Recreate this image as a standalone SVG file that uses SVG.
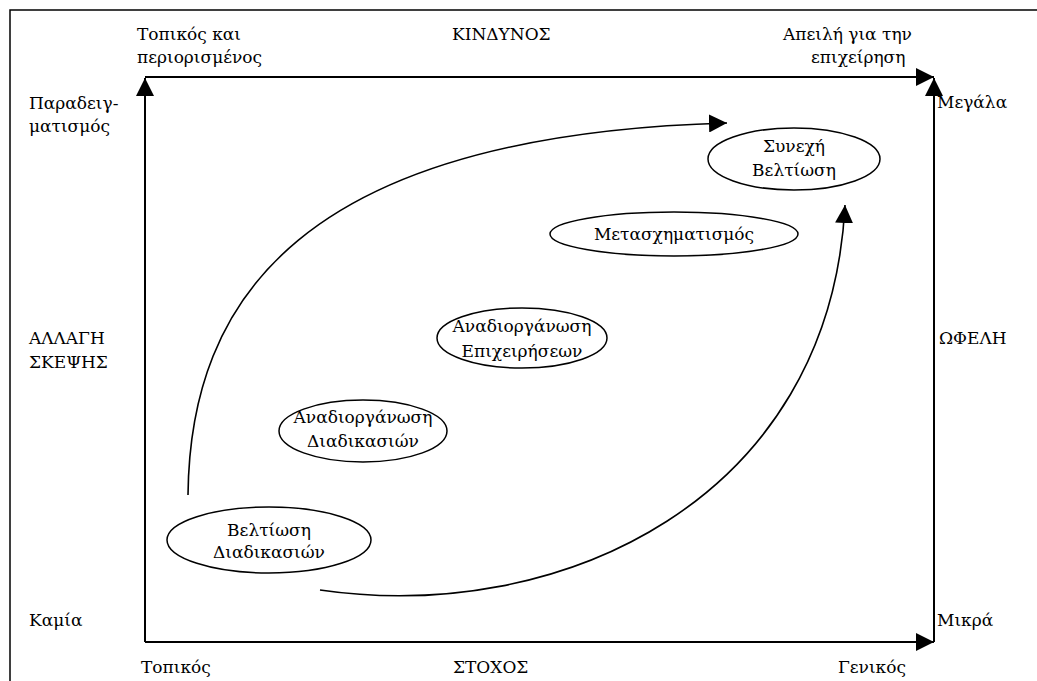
<svg xmlns="http://www.w3.org/2000/svg" width="1037" height="681" viewBox="0 0 1037 681">
  <style>
    text { font-family: "DejaVu Serif", "Liberation Serif", serif; font-size: 17px; fill: #000; }
    .mid { text-anchor: middle; }
    .axis { stroke: #000; stroke-width: 2; fill: none; }
    .node { stroke: #000; stroke-width: 1.5; fill: #fff; }
    .flow { stroke: #000; stroke-width: 1.6; fill: none; }
  </style>
  <defs>
    <marker id="head" markerUnits="userSpaceOnUse" markerWidth="18" markerHeight="18" refX="18" refY="9" orient="auto">
      <path d="M0,0 L18,9 L0,18 z" fill="#000"/>
    </marker>
  </defs>
  <rect width="1037" height="681" fill="#fff"/>
  <!-- outer frame (only top and left edges fall inside the canvas) -->
  <rect x="10" y="10" width="1040" height="690" fill="none" stroke="#000" stroke-width="1.5"/>

  <!-- axes and flow arrows -->
  <g id="connectors">
    <line class="axis" x1="145" y1="77" x2="934" y2="77" marker-end="url(#head)"/>
    <line class="axis" x1="145" y1="642" x2="145" y2="78" marker-end="url(#head)"/>
    <line class="axis" x1="145" y1="642" x2="934" y2="642" marker-end="url(#head)"/>
    <line class="axis" x1="934" y1="642" x2="934" y2="78" marker-end="url(#head)"/>
    <path class="flow" d="M188,495 C190,300 300,135 727,123" marker-end="url(#head)"/>
    <path class="flow" d="M320,590 C560,625 830,500 845,205" marker-end="url(#head)"/>
  </g>

  <!-- axis labels -->
  <g id="labels">
    <text x="137" y="40">Τοπικός και</text>
    <text x="137" y="63">περιορισμένος</text>
    <text x="452" y="40">ΚΙΝΔΥΝΟΣ</text>
    <text x="783" y="40">Απειλή για την</text>
    <text x="811" y="63">επιχείρηση</text>
    <text x="29" y="109">Παραδειγ-</text>
    <text x="29" y="132">ματισμός</text>
    <text x="29" y="344">ΑΛΛΑΓΗ</text>
    <text x="29" y="368">ΣΚΕΨΗΣ</text>
    <text x="29" y="626">Καμία</text>
    <text x="937" y="108">Μεγάλα</text>
    <text x="939" y="344">ΩΦΕΛΗ</text>
    <text x="937" y="626">Μικρά</text>
    <text x="141" y="673">Τοπικός</text>
    <text x="453" y="673">ΣΤΟΧΟΣ</text>
    <text x="838" y="673">Γενικός</text>
  </g>

  <g id="node-beltiosi-diadikasion">
    <ellipse class="node" cx="269" cy="540" rx="102" ry="33"/>
    <text class="mid" x="269" y="536">Βελτίωση</text>
    <text class="mid" x="269" y="558">Διαδικασιών</text>
  </g>
  <g id="node-anadiorganosi-diadikasion">
    <ellipse class="node" cx="363" cy="431" rx="84" ry="31"/>
    <text class="mid" x="363" y="423">Αναδιοργάνωση</text>
    <text class="mid" x="363" y="447">Διαδικασιών</text>
  </g>
  <g id="node-anadiorganosi-epixeiriseon">
    <ellipse class="node" cx="522" cy="338" rx="85" ry="30"/>
    <text class="mid" x="522" y="332">Αναδιοργάνωση</text>
    <text class="mid" x="522" y="357">Επιχειρήσεων</text>
  </g>
  <g id="node-metasximatismos">
    <ellipse class="node" cx="674" cy="234" rx="124" ry="22"/>
    <text class="mid" x="674" y="240">Μετασχηματισμός</text>
  </g>
  <g id="node-synexi-beltiosi">
    <ellipse class="node" cx="794" cy="159" rx="86" ry="31"/>
    <text class="mid" x="794" y="152">Συνεχή</text>
    <text class="mid" x="794" y="176">Βελτίωση</text>
  </g>
</svg>
